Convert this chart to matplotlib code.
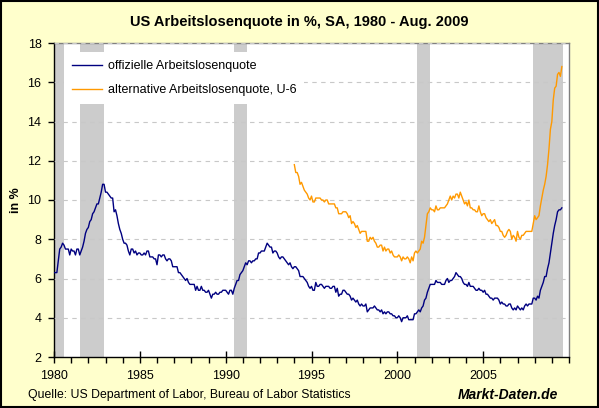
import numpy as np
import matplotlib
matplotlib.use("Agg")
import matplotlib.pyplot as plt
from matplotlib.patches import Rectangle
from matplotlib.ticker import MultipleLocator

plt.rcParams['font.family'] = ['Liberation Sans', 'DejaVu Sans']

# monthly, seasonally adjusted, starting Jan 1980
official_start = 1980
official = [
    6.3, 6.3, 6.3, 6.9, 7.5, 7.6, 7.8, 7.7, 7.5, 7.5, 7.5, 7.2,
    7.5, 7.4, 7.4, 7.2, 7.5, 7.5, 7.2, 7.4, 7.6, 7.9, 8.3, 8.5,
    8.6, 8.9, 9.0, 9.3, 9.4, 9.6, 9.8, 9.8, 10.1, 10.4, 10.8, 10.8,
    10.4, 10.4, 10.3, 10.2, 10.1, 10.1, 9.4, 9.5, 9.2, 8.8, 8.5, 8.3,
    8.0, 7.8, 7.8, 7.7, 7.4, 7.2, 7.5, 7.5, 7.3, 7.4, 7.2, 7.3,
    7.3, 7.2, 7.2, 7.3, 7.2, 7.4, 7.4, 7.1, 7.1, 7.1, 7.0, 7.0,
    6.7, 7.2, 7.2, 7.1, 7.2, 7.2, 7.0, 6.9, 7.0, 7.0, 6.9, 6.6,
    6.6, 6.6, 6.6, 6.3, 6.3, 6.2, 6.1, 6.0, 5.9, 6.0, 5.8, 5.7,
    5.7, 5.7, 5.7, 5.4, 5.6, 5.4, 5.4, 5.6, 5.4, 5.4, 5.3, 5.3,
    5.4, 5.2, 5.0, 5.2, 5.2, 5.3, 5.2, 5.2, 5.3, 5.3, 5.4, 5.4,
    5.4, 5.3, 5.2, 5.4, 5.4, 5.2, 5.5, 5.7, 5.9, 5.9, 6.2, 6.3,
    6.4, 6.6, 6.8, 6.7, 6.9, 6.9, 6.8, 6.9, 6.9, 7.0, 7.0, 7.3,
    7.3, 7.4, 7.4, 7.4, 7.6, 7.8, 7.7, 7.6, 7.6, 7.3, 7.4, 7.4,
    7.3, 7.1, 7.0, 7.1, 7.1, 7.0, 6.9, 6.8, 6.7, 6.8, 6.6, 6.5,
    6.6, 6.6, 6.5, 6.4, 6.1, 6.1, 6.1, 6.0, 5.9, 5.8, 5.6, 5.5,
    5.6, 5.4, 5.4, 5.8, 5.6, 5.6, 5.7, 5.7, 5.6, 5.5, 5.6, 5.6,
    5.6, 5.5, 5.5, 5.6, 5.6, 5.3, 5.5, 5.1, 5.2, 5.2, 5.4, 5.4,
    5.3, 5.2, 5.2, 5.1, 4.9, 5.0, 4.9, 4.8, 4.9, 4.7, 4.6, 4.7,
    4.6, 4.6, 4.7, 4.3, 4.4, 4.5, 4.5, 4.5, 4.6, 4.5, 4.4, 4.4,
    4.3, 4.4, 4.2, 4.3, 4.2, 4.3, 4.3, 4.2, 4.2, 4.1, 4.1, 4.0,
    4.0, 4.1, 4.0, 3.8, 4.0, 4.0, 4.0, 4.1, 3.9, 3.9, 3.9, 3.9,
    4.2, 4.2, 4.3, 4.4, 4.3, 4.5, 4.6, 4.9, 5.0, 5.3, 5.5, 5.7,
    5.7, 5.7, 5.7, 5.9, 5.8, 5.8, 5.8, 5.7, 5.7, 5.7, 5.9, 6.0,
    5.8, 5.9, 5.9, 6.0, 6.1, 6.3, 6.2, 6.1, 6.1, 6.0, 5.8, 5.7,
    5.7, 5.6, 5.8, 5.6, 5.6, 5.6, 5.5, 5.4, 5.4, 5.5, 5.4, 5.4,
    5.3, 5.4, 5.2, 5.2, 5.1, 5.0, 5.0, 4.9, 5.0, 5.0, 5.0, 4.9,
    4.7, 4.8, 4.7, 4.7, 4.6, 4.6, 4.7, 4.7, 4.5, 4.4, 4.5, 4.4,
    4.6, 4.5, 4.4, 4.5, 4.4, 4.6, 4.7, 4.6, 4.7, 4.7, 4.7, 5.0,
    5.0, 4.9, 5.1, 5.0, 5.4, 5.6, 5.8, 6.1, 6.1, 6.5, 6.8, 7.3,
    7.8, 8.3, 8.7, 9.0, 9.4, 9.5, 9.5, 9.6,
]

# U-6, starting Jan 1994
u6_start = 1994
u6 = [
    11.8, 11.4, 11.4, 11.2, 10.8, 10.9, 10.7, 10.5, 10.4, 10.3, 10.1, 10.0,
    10.2, 9.9, 9.9, 10.1, 10.1, 10.1, 10.1, 10.0, 10.0, 9.9, 10.0, 10.0,
    9.8, 9.8, 9.8, 9.8, 9.8, 9.6, 9.6, 9.3, 9.3, 9.3, 9.4, 9.4,
    9.4, 9.3, 9.1, 9.2, 8.8, 8.9, 8.8, 8.6, 8.7, 8.5, 8.3, 8.4,
    8.4, 8.4, 8.4, 7.9, 7.9, 8.1, 8.0, 8.1, 7.9, 7.8, 7.6, 7.6,
    7.7, 7.7, 7.4, 7.6, 7.4, 7.5, 7.5, 7.3, 7.4, 7.2, 7.1, 7.1,
    7.1, 7.2, 7.1, 6.9, 7.1, 7.0, 7.0, 7.1, 7.0, 6.8, 7.1, 6.9,
    7.3, 7.4, 7.3, 7.4, 7.5, 7.9, 7.8, 8.1, 8.7, 9.3, 9.4, 9.6,
    9.5, 9.5, 9.4, 9.7, 9.5, 9.5, 9.6, 9.6, 9.6, 9.6, 9.7, 9.8,
    10.0, 10.2, 10.0, 10.2, 10.1, 10.3, 10.3, 10.1, 10.4, 10.2, 10.0, 9.8,
    9.9, 9.7, 10.0, 9.6, 9.6, 9.5, 9.5, 9.4, 9.4, 9.7, 9.4, 9.2,
    9.3, 9.3, 9.1, 9.0, 8.9, 9.0, 8.8, 8.9, 9.0, 8.7, 8.7, 8.6,
    8.4, 8.4, 8.2, 8.1, 8.2, 8.4, 8.5, 8.4, 8.0, 8.2, 8.1, 7.9,
    8.4, 8.1, 8.0, 8.2, 8.2, 8.3, 8.4, 8.4, 8.4, 8.4, 8.4, 8.8,
    9.2, 9.0, 9.1, 9.2, 9.7, 10.1, 10.5, 10.8, 11.2, 11.8, 12.6, 13.6,
    14.0, 15.1, 15.7, 15.8, 16.4, 16.5, 16.3, 16.8,
]

# recessions: (first month, last month), as (year, month)
recessions = [
    ((1980, 1), (1980, 7)),
    ((1981, 7), (1982, 11)),
    ((1990, 7), (1991, 3)),
    ((2001, 3), (2001, 11)),
    ((2007, 12), (2009, 8)),
]

x_off = official_start + np.arange(len(official)) / 12
x_u6 = u6_start + np.arange(len(u6)) / 12

fig = plt.figure(figsize=(5.99, 4.08), dpi=100)
fig.patch.set_facecolor('#FFFFCC')
fig.patches.append(Rectangle((0.001, 0.002), 0.997, 0.995, transform=fig.transFigure,
                             fill=False, edgecolor='black', linewidth=1.5))

ax = fig.add_axes([54 / 599, 1 - 357 / 408, 515 / 599, 314 / 408])
ax.set_facecolor('white')

for (y0, m0), (y1, m1) in recessions:
    ax.axvspan(y0 + (m0 - 1) / 12, y1 + m1 / 12, color='#CCCCCC', lw=0, zorder=1)

ax.plot(x_off, official, color='#000080', lw=1.0, zorder=3,
        label='offizielle Arbeitslosenquote')
ax.plot(x_u6, u6, color='#FF9900', lw=1.0, zorder=3,
        label='alternative Arbeitslosenquote, U-6')

ax.set_xlim(1980, 2010)
ax.set_ylim(2, 18)
ax.yaxis.set_major_locator(MultipleLocator(2))
ax.xaxis.set_minor_locator(MultipleLocator(1))
ax.set_xticks([1980, 1985, 1990, 1995, 2000, 2005])
ax.set_xticklabels(['1980', '1985', '1990', '1995', '2000', '2005'])

ax.grid(axis='y', color='#C8C8C8', linestyle=(0, (4, 4)), lw=0.8, zorder=2)
ax.set_axisbelow(False)

ax.tick_params(axis='y', direction='out', length=4, width=1, labelsize=9, pad=5)
ax.tick_params(axis='x', which='major', direction='inout', length=9, width=1,
               labelsize=9, pad=5)
ax.tick_params(axis='x', which='minor', direction='out', length=4, width=1)

for s in ['left', 'bottom']:
    ax.spines[s].set_color('black')
    ax.spines[s].set_linewidth(1.0)
for s in ['top', 'right']:
    ax.spines[s].set_color('#808080')
    ax.spines[s].set_linewidth(1.0)

leg = ax.legend(loc='upper left', bbox_to_anchor=(0.02, 0.97), fontsize=9,
                frameon=True, fancybox=False, handlelength=2.4, handletextpad=0.5,
                labelspacing=1.0, borderpad=0.6, borderaxespad=0)
leg.get_frame().set_facecolor('white')
leg.get_frame().set_edgecolor('none')
leg.get_frame().set_alpha(1)
leg.set_zorder(5)

fig.text(0.5, 1 - 22 / 408, 'US Arbeitslosenquote in %, SA, 1980 - Aug. 2009',
         ha='center', va='center', fontsize=10.5, fontweight='bold')
fig.text(16 / 599, 1 - 200 / 408, 'in %', rotation=90, ha='center', va='center',
         fontsize=9, fontweight='bold')
fig.text(28 / 599, 1 - 395 / 408,
         'Quelle: US Department of Labor, Bureau of Labor Statistics',
         ha='left', va='center', fontsize=8.8)
fig.text(558 / 599, 1 - 395 / 408, 'Markt-Daten.de', ha='right', va='center',
         fontsize=10, fontweight='bold', fontstyle='italic')

fig.savefig('out.png', dpi=100, facecolor=fig.get_facecolor())
